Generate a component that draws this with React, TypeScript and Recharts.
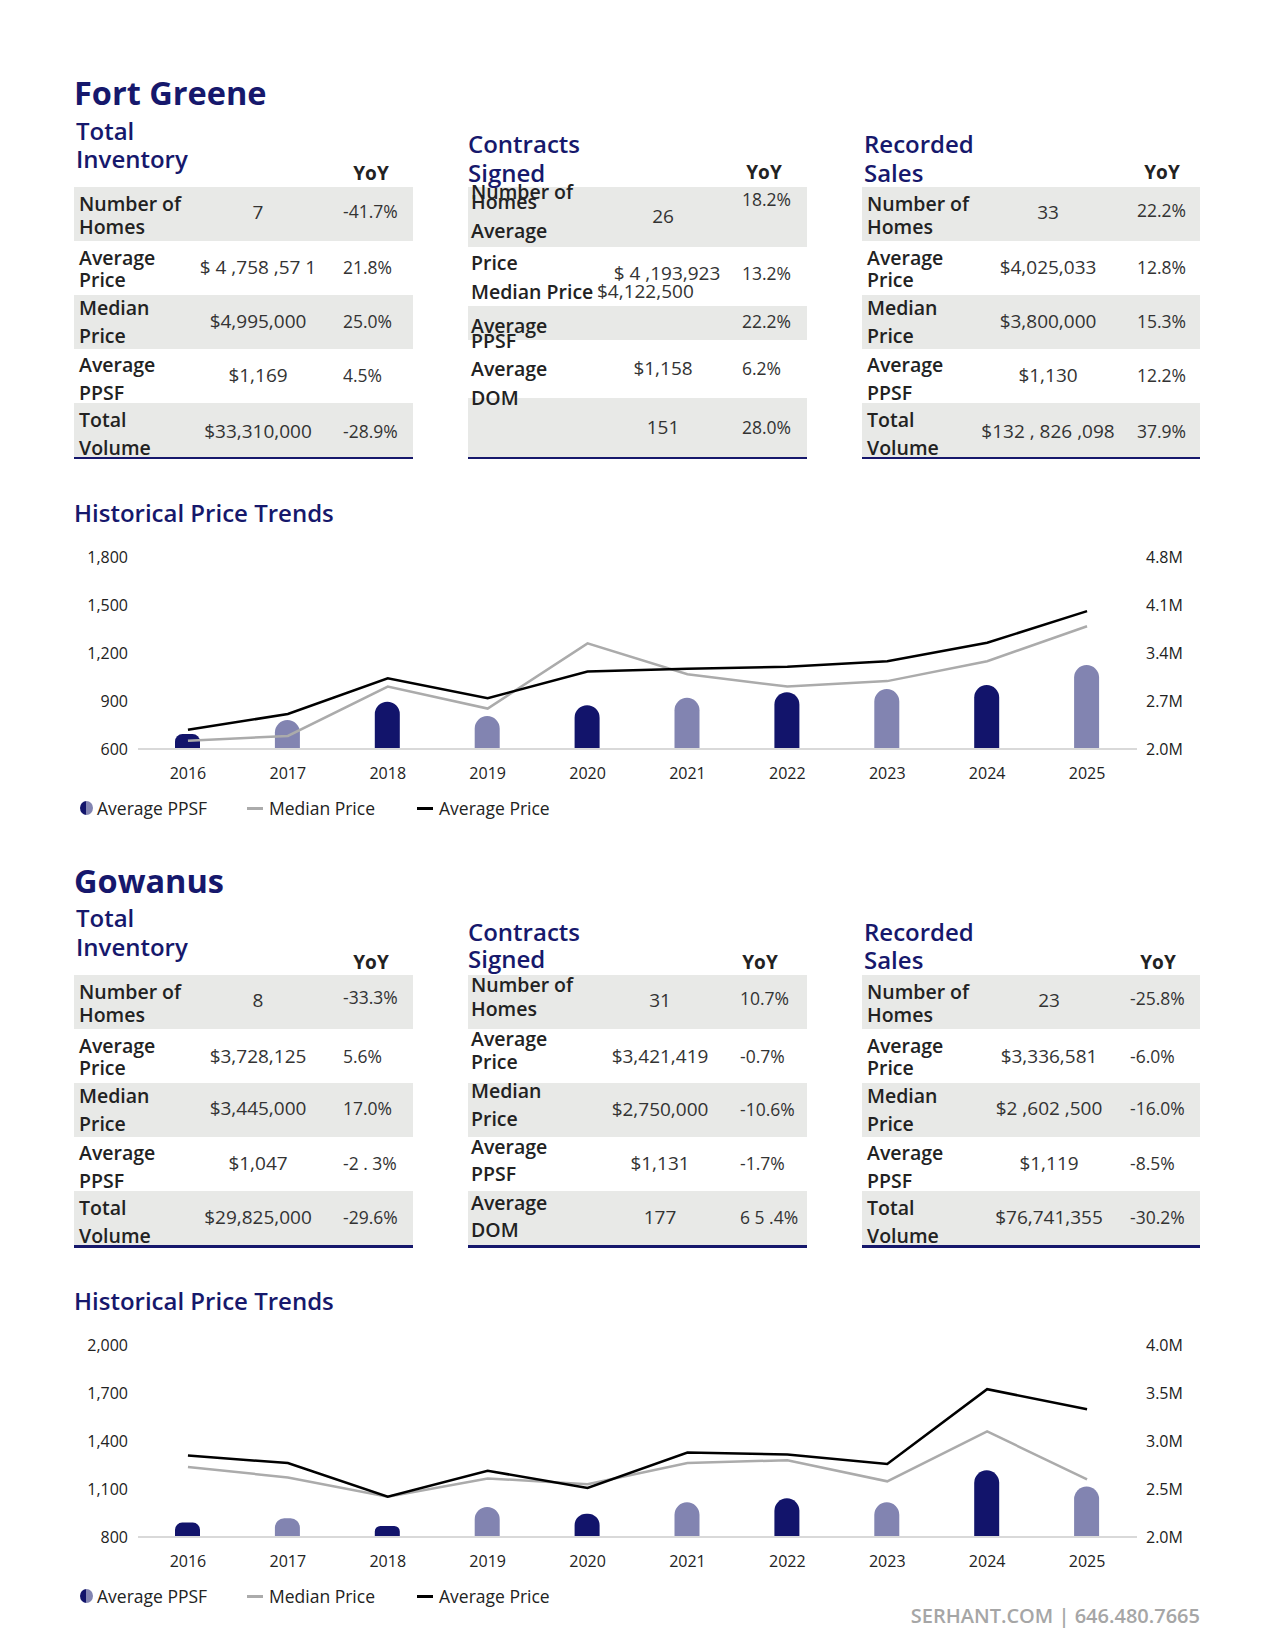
import React from 'react';
import { ComposedChart, Bar, Line, XAxis, YAxis, Cell } from 'recharts';

// ---------- data ----------
const years = ['2016', '2017', '2018', '2019', '2020', '2021', '2022', '2023', '2024', '2025'];

const fgPpsf = [694, 781, 896, 806, 874, 920, 955, 975, 1000, 1125];
const fgAvgPrice = [2280000, 2510000, 3030000, 2740000, 3130000, 3170000, 3200000, 3280000, 3550000, 4010000];
const fgMedianPrice = [2120000, 2190000, 2910000, 2590000, 3540000, 3090000, 2910000, 2990000, 3280000, 3790000];
const fgLeftTicks = [600, 900, 1200, 1500, 1800];
const fgRightTicks = [2000000, 2700000, 3400000, 4100000, 4800000];

const gwPpsf = [890, 917, 869, 988, 946, 1017, 1042, 1017, 1217, 1115];
const gwAvgPrice = [2850000, 2770000, 2420000, 2690000, 2510000, 2880000, 2860000, 2760000, 3540000, 3330000];
const gwMedianPrice = [2730000, 2620000, 2420000, 2610000, 2550000, 2770000, 2800000, 2580000, 3100000, 2600000];
const gwLeftTicks = [800, 1100, 1400, 1700, 2000];
const gwRightTicks = [2000000, 2500000, 3000000, 3500000, 4000000];

const legendLabels = ['Average PPSF', 'Median Price', 'Average Price'];
const sectionNames = ['Fort Greene', 'Gowanus'];
const tableTitles = [['Total', 'Inventory'], ['Contracts', 'Signed'], ['Recorded', 'Sales']];
const chartTitle = 'Historical Price Trends';
const footerText = 'SERHANT.COM | 646.480.7665';

const fgInventoryLabels = [['Number of', 'Homes'], ['Average', 'Price'], ['Median', 'Price'], ['Average', 'PPSF'], ['Total', 'Volume']];
const fgInventoryValues = ['7', '$ 4 ,758 ,57 1', '$4,995,000', '$1,169', '$33,310,000'];
const fgInventoryYoY = ['-41.7%', '21.8%', '25.0%', '4.5%', '-28.9%'];

const fgContractsLabels = [['Number of', 'Homes'], ['Average', 'Price'], ['Median Price'], ['Average', 'PPSF'], ['Average', 'DOM']];
const fgContractsValues = ['26', '$ 4 ,193,923', '$4,122,500', '$1,158', '151'];
const fgContractsYoY = ['18.2%', '13.2%', '22.2%', '6.2%', '28.0%'];

const fgSalesLabels = [['Number of', 'Homes'], ['Average', 'Price'], ['Median', 'Price'], ['Average', 'PPSF'], ['Total', 'Volume']];
const fgSalesValues = ['33', '$4,025,033', '$3,800,000', '$1,130', '$132 , 826 ,098'];
const fgSalesYoY = ['22.2%', '12.8%', '15.3%', '12.2%', '37.9%'];

const gwInventoryLabels = [['Number of', 'Homes'], ['Average', 'Price'], ['Median', 'Price'], ['Average', 'PPSF'], ['Total', 'Volume']];
const gwInventoryValues = ['8', '$3,728,125', '$3,445,000', '$1,047', '$29,825,000'];
const gwInventoryYoY = ['-33.3%', '5.6%', '17.0%', '-2 . 3%', '-29.6%'];

const gwContractsLabels = [['Number of', 'Homes'], ['Average', 'Price'], ['Median', 'Price'], ['Average', 'PPSF'], ['Average', 'DOM']];
const gwContractsValues = ['31', '$3,421,419', '$2,750,000', '$1,131', '177'];
const gwContractsYoY = ['10.7%', '-0.7%', '-10.6%', '-1.7%', '6 5 .4%'];

const gwSalesLabels = [['Number of', 'Homes'], ['Average', 'Price'], ['Median', 'Price'], ['Average', 'PPSF'], ['Total', 'Volume']];
const gwSalesValues = ['23', '$3,336,581', '$2 ,602 ,500', '$1,119', '$76,741,355'];
const gwSalesYoY = ['-25.8%', '-6.0%', '-16.0%', '-8.5%', '-30.2%'];

// ---------- styles / layout ----------
const FONT = '"Open Sans", "Noto Sans", sans-serif';
const NAVY = '#16186c';
const DARK_BAR = '#12146b';
const LIGHT_BAR = '#8284b1';
const ROW_GRAY = '#e8e9e7';
const SECTION_OFFSET = 788;

const STD_BANDS = [187, 241, 295, 349, 403, 458];
const FGC_BANDS = [187, 247, 306, 340, 398, 458];

type Layout = {
  x0: number; x1: number; labelX: number; valueX: number; yoyX: number; headerX: number;
  bands: number[];
  labelY: number[][];
  valueY: number[];
  valueXs?: number[];
  valueAnchor?: string[];
  yoyY: number[];
  titleY: number[];
  headerY: number;
  border: number;
};

const stdLabelY = [[203, 226], [257, 279], [307, 335], [364, 392], [419, 447]];
const stdValueY = [212, 267, 321, 375, 431];
const stdYoyY = [211, 267, 321, 375, 431];

const layoutFgInv: Layout = { x0: 74, x1: 413, labelX: 79, valueX: 258, yoyX: 343, headerX: 371, bands: STD_BANDS, labelY: stdLabelY, valueY: stdValueY, yoyY: stdYoyY, titleY: [130, 158], headerY: 173, border: 2 };
const layoutFgCon: Layout = {
  x0: 468, x1: 807, labelX: 471, valueX: 663, yoyX: 742, headerX: 764, bands: FGC_BANDS,
  labelY: [[191, 201], [230, 262], [291], [325, 340], [368, 397]],
  valueY: [216, 273, 291, 368, 427],
  valueXs: [663, 667, 597, 663, 663],
  valueAnchor: ['middle', 'middle', 'start', 'middle', 'middle'],
  yoyY: [199, 273, 321, 368, 427], titleY: [143, 172], headerY: 172, border: 2,
};
const layoutFgSal: Layout = { x0: 862, x1: 1200, labelX: 867, valueX: 1048, yoyX: 1137, headerX: 1162, bands: STD_BANDS, labelY: stdLabelY, valueY: stdValueY, yoyY: [210, 267, 321, 375, 431], titleY: [143, 172], headerY: 172, border: 2 };

const layoutGwInv: Layout = { ...layoutFgInv, titleY: [129, 158], headerY: 174, valueY: [212, 268, 320, 375, 429], yoyY: [209, 268, 320, 375, 429], border: 3 };
const layoutGwCon: Layout = {
  x0: 468, x1: 807, labelX: 471, valueX: 660, yoyX: 740, headerX: 760, bands: STD_BANDS,
  labelY: [[196, 220], [250, 273], [302, 330], [358, 385], [414, 441]],
  valueY: [212, 268, 321, 375, 429], yoyY: [210, 268, 321, 375, 429],
  titleY: [143, 170], headerY: 174, border: 3,
};
const layoutGwSal: Layout = { ...layoutFgSal, valueX: 1049, yoyX: 1130, headerX: 1158, titleY: [143, 171], headerY: 174, valueY: [212, 268, 320, 375, 429], yoyY: [210, 268, 320, 375, 429], border: 3 };

function Txt({ x, y, text, anchor = 'start', size, weight = 400, color = '#222', letterSpacing }: any) {
  const lh = Math.round(size * 1.3);
  const style: React.CSSProperties = {
    position: 'absolute', left: x, top: y - lh / 2, lineHeight: lh + 'px', height: lh,
    fontSize: size, fontWeight: weight, color, whiteSpace: 'pre', fontFamily: FONT,
    letterSpacing,
  };
  if (anchor === 'middle') style.transform = 'translateX(-50%)';
  if (anchor === 'end') style.transform = 'translateX(-100%)';
  return <div style={style}>{text}</div>;
}

function StatTable({ off, title, labels, values, yoy, L }: any) {
  const bands: number[] = L.bands;
  const els: any[] = [];
  for (let i = 0; i < bands.length - 1; i++) {
    if (i % 2 === 0) {
      els.push(<div key={'b' + i} style={{ position: 'absolute', left: L.x0, width: L.x1 - L.x0, top: off + bands[i], height: bands[i + 1] - bands[i], background: ROW_GRAY }} />);
    }
  }
  els.push(<div key="border" style={{ position: 'absolute', left: L.x0, width: L.x1 - L.x0, top: off + bands[bands.length - 1] - 1, height: L.border, background: NAVY }} />);
  title.forEach((t: string, i: number) => els.push(<Txt key={'t' + i} x={L.labelX - 3} y={off + L.titleY[i]} text={t} size={24} weight={600} color={NAVY} />));
  els.push(<Txt key="yoy" x={L.headerX} y={off + L.headerY} text="YoY" size={19} weight={700} color="#222" anchor="middle" />);
  labels.forEach((lines: string[], r: number) => {
    lines.forEach((ln: string, j: number) => els.push(<Txt key={'l' + r + j} x={L.labelX} y={off + L.labelY[r][j]} text={ln} size={19.5} weight={600} color="#222" />));
  });
  values.forEach((v: string, r: number) => {
    const vx = L.valueXs ? L.valueXs[r] : L.valueX;
    const an = L.valueAnchor ? L.valueAnchor[r] : 'middle';
    els.push(<Txt key={'v' + r} x={vx} y={off + L.valueY[r]} text={v} size={19} weight={400} color="#333" anchor={an} />);
  });
  yoy.forEach((v: string, r: number) => els.push(<Txt key={'y' + r} x={L.yoyX} y={off + L.yoyY[r]} text={v} size={17.5} weight={400} color="#333" />));
  return <>{els}</>;
}

const tickStyle = { fontSize: 16, fill: '#222', fontFamily: FONT, fontWeight: 400 };

function TrendChart({ off, ppsf, avg, med, leftTicks, rightTicks }: any) {
  const data = years.map((y, i) => ({ year: y, ppsf: ppsf[i], avg: avg[i], med: med[i] }));
  return (
    <div style={{ position: 'absolute', left: 60, top: off + 530 }}>
      <ComposedChart width={1150} height={265} data={data} margin={{ top: 27, right: 0, bottom: 0, left: 0 }}>
        <XAxis dataKey="year" axisLine={{ stroke: '#d9d9d9', strokeWidth: 2 }} tickLine={false} tickMargin={13} tick={tickStyle} height={46} interval={0} />
        <YAxis yAxisId="left" orientation="left" width={78} domain={[leftTicks[0], leftTicks[leftTicks.length - 1]]} ticks={leftTicks} axisLine={false} tickLine={false} tickMargin={4} tick={tickStyle} tickFormatter={(v: number) => v.toLocaleString('en-US')} allowDataOverflow />
        <YAxis yAxisId="right" orientation="right" width={73} domain={[rightTicks[0], rightTicks[rightTicks.length - 1]]} ticks={rightTicks} axisLine={false} tickLine={false} tickMargin={3} tick={tickStyle} tickFormatter={(v: number) => (v / 1e6).toFixed(1) + 'M'} allowDataOverflow />
        <Bar yAxisId="left" dataKey="ppsf" barSize={25} radius={[12.5, 12.5, 0, 0]} isAnimationActive={false}>
          {data.map((d, i) => <Cell key={i} fill={i % 2 === 0 ? DARK_BAR : LIGHT_BAR} />)}
        </Bar>
        <Line yAxisId="right" type="linear" dataKey="med" stroke="#ababab" strokeWidth={2.5} dot={false} activeDot={false} isAnimationActive={false} />
        <Line yAxisId="right" type="linear" dataKey="avg" stroke="#000000" strokeWidth={2.5} dot={false} activeDot={false} isAnimationActive={false} />
      </ComposedChart>
    </div>
  );
}

function ChartLegend({ off }: any) {
  const y = off + 808;
  return (
    <>
      <div style={{ position: 'absolute', left: 80, top: y - 7, width: 13, height: 14, borderRadius: '50%', background: `linear-gradient(to right, ${DARK_BAR} 50%, ${LIGHT_BAR} 50%)` }} />
      <Txt x={97} y={y} text={legendLabels[0]} size={17.5} weight={400} color="#222" />
      <div style={{ position: 'absolute', left: 247, top: y - 1, width: 16, height: 2.5, background: '#ababab' }} />
      <Txt x={269} y={y} text={legendLabels[1]} size={17.5} weight={400} color="#222" />
      <div style={{ position: 'absolute', left: 417, top: y - 1, width: 16, height: 2.5, background: '#000' }} />
      <Txt x={439} y={y} text={legendLabels[2]} size={17.5} weight={400} color="#222" />
    </>
  );
}

function Section({ idx, tables, chart }: any) {
  const off = idx * SECTION_OFFSET;
  return (
    <>
      <Txt x={74} y={off + 93} text={sectionNames[idx]} size={32.5} weight={700} color={NAVY} />
      {tables.map((t: any, i: number) => <StatTable key={i} off={off} title={tableTitles[i]} {...t} />)}
      <Txt x={74} y={off + 512} text={chartTitle} size={24} weight={600} color={NAVY} />
      <TrendChart off={off} {...chart} />
      <ChartLegend off={off} />
    </>
  );
}

export default function App() {
  return (
    <div style={{ position: 'absolute', left: 0, top: 0, width: 1275, height: 1650, background: '#fff', overflow: 'hidden', fontFamily: FONT }}>
      <Section idx={0}
        tables={[
          { labels: fgInventoryLabels, values: fgInventoryValues, yoy: fgInventoryYoY, L: layoutFgInv },
          { labels: fgContractsLabels, values: fgContractsValues, yoy: fgContractsYoY, L: layoutFgCon },
          { labels: fgSalesLabels, values: fgSalesValues, yoy: fgSalesYoY, L: layoutFgSal },
        ]}
        chart={{ ppsf: fgPpsf, avg: fgAvgPrice, med: fgMedianPrice, leftTicks: fgLeftTicks, rightTicks: fgRightTicks }}
      />
      <Section idx={1}
        tables={[
          { labels: gwInventoryLabels, values: gwInventoryValues, yoy: gwInventoryYoY, L: layoutGwInv },
          { labels: gwContractsLabels, values: gwContractsValues, yoy: gwContractsYoY, L: layoutGwCon },
          { labels: gwSalesLabels, values: gwSalesValues, yoy: gwSalesYoY, L: layoutGwSal },
        ]}
        chart={{ ppsf: gwPpsf, avg: gwAvgPrice, med: gwMedianPrice, leftTicks: gwLeftTicks, rightTicks: gwRightTicks }}
      />
      <Txt x={1200} y={1616} text={footerText} size={20} weight={600} color="#a6a6a6" anchor="end" />
    </div>
  );
}
